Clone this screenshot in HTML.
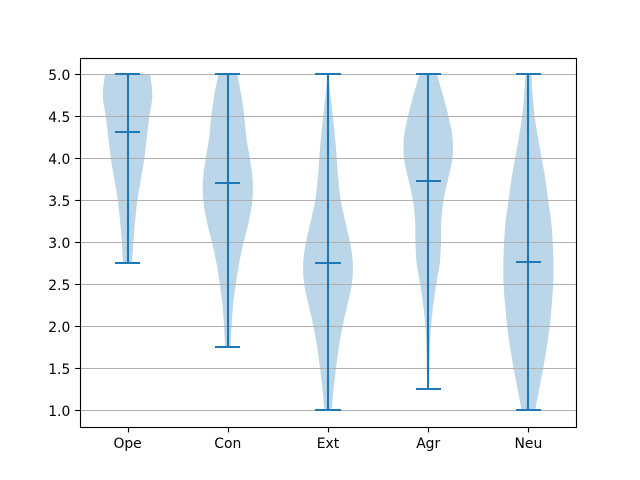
<!DOCTYPE html>
<html>
<head>
<meta charset="utf-8">
<title>Violin plot</title>
<style>
html,body{margin:0;padding:0;background:#fff;}
svg{display:block;}
text{font-family:"DejaVu Sans",sans-serif;font-size:13.89px;fill:#000;}
</style>
</head>
<body>
<svg id="chart" width="640" height="480" viewBox="0 0 640 480" xmlns="http://www.w3.org/2000/svg"></svg>
<script>
const categories = ["Ope", "Con", "Ext", "Agr", "Neu"];
const yTicks = [1.0, 1.5, 2.0, 2.5, 3.0, 3.5, 4.0, 4.5, 5.0];
const opeMin = 2.75, conMin = 1.75, extMin = 1.0, agrMin = 1.25, neuMin = 1.0;
const maxima = [5, 5, 5, 5, 5];
const minima = [opeMin, conMin, extMin, agrMin, neuMin];
const means = [4.31, 3.71, 2.75, 3.73, 2.77];
/* relative density, listed from 5.0 downward in steps of 0.25 */
const opeDensity = [0.90, 0.99, 0.87, 0.77, 0.67, 0.53, 0.39, 0.30, 0.23, 0.18];
const conDensity = [0.38, 0.54, 0.66, 0.74, 0.88, 0.99, 0.98, 0.84, 0.63, 0.45, 0.32, 0.21, 0.15, 0.11];
const extDensity = [0.02, 0.10, 0.19, 0.28, 0.35, 0.41, 0.51, 0.69, 0.88, 0.99, 0.95, 0.77, 0.58, 0.43, 0.32, 0.22, 0.15];
const agrDensity = [0.35, 0.59, 0.81, 0.97, 0.97, 0.79, 0.61, 0.52, 0.51, 0.46, 0.32, 0.20, 0.11, 0.07, 0.05, 0.03];
const neuDensity = [0.12, 0.17, 0.25, 0.38, 0.53, 0.68, 0.79, 0.91, 0.97, 1.00, 0.99, 0.93, 0.85, 0.73, 0.59, 0.43, 0.27];
const densities = [opeDensity, conDensity, extDensity, agrDensity, neuDensity];
const densityStep = 0.25;

const NS = "http://www.w3.org/2000/svg";
const svg = document.getElementById("chart");
const plot = { left: 80, right: 576, top: 57.6, bottom: 427.2 };
const xDomain = [0.525, 5.475];
const yDomain = [0.8, 5.2];
const violinHalfWidth = 0.25;
const capHalfWidth = 0.125;
const blue = "#1f77b4";

function xScale(v) {
  return plot.left + (v - xDomain[0]) / (xDomain[1] - xDomain[0]) * (plot.right - plot.left);
}
function yScale(v) {
  return plot.bottom - (v - yDomain[0]) / (yDomain[1] - yDomain[0]) * (plot.bottom - plot.top);
}
function make(tag, attrs, parent) {
  const el = document.createElementNS(NS, tag);
  for (const k in attrs) el.setAttribute(k, attrs[k]);
  parent.appendChild(el);
  return el;
}
function smoothThrough(pts) {
  let d = "";
  for (let i = 0; i < pts.length - 1; i++) {
    const p0 = pts[Math.max(i - 1, 0)], p1 = pts[i], p2 = pts[i + 1], p3 = pts[Math.min(i + 2, pts.length - 1)];
    const c1x = p1[0] + (p2[0] - p0[0]) / 6, c1y = p1[1] + (p2[1] - p0[1]) / 6;
    const c2x = p2[0] - (p3[0] - p1[0]) / 6, c2y = p2[1] - (p3[1] - p1[1]) / 6;
    d += " C" + c1x.toFixed(2) + " " + c1y.toFixed(2) + " " + c2x.toFixed(2) + " " + c2y.toFixed(2) + " " + p2[0].toFixed(2) + " " + p2[1].toFixed(2);
  }
  return d;
}

const bg = make("rect", { x: plot.left, y: plot.top, width: plot.right - plot.left, height: plot.bottom - plot.top, fill: "#fff" }, svg);



/* violin bodies */
categories.forEach(function (name, i) {
  const cx = xScale(i + 1);
  const right = [], left = [];
  densities[i].forEach(function (w, j) {
    const level = maxima[i] - j * densityStep;
    const y = yScale(level);
    const dx = xScale(i + 1 + w * violinHalfWidth) - cx;
    right.push([cx + dx, y]);
    left.push([cx - dx, y]);
  });
  left.reverse();
  const d = "M" + right[0][0].toFixed(2) + " " + right[0][1].toFixed(2) + smoothThrough(right) +
    " L" + left[0][0].toFixed(2) + " " + left[0][1].toFixed(2) + smoothThrough(left) + " Z";
  const body = make("path", { d: d, fill: blue, "fill-opacity": 0.3 }, svg);
  
  
});

/* grid lines */
yTicks.forEach(function (t) {
  const y = Math.floor(yScale(t)) + 0.5;
  const g = make("line", { x1: plot.left, x2: plot.right, y1: y, y2: y, stroke: "#b0b0b0", "stroke-width": 1.11 }, svg);
  
  
});

/* bars, caps, means */
categories.forEach(function (name, i) {
  const cx = Math.round(xScale(i + 1));
  const capL = Math.round(xScale(i + 1 - capHalfWidth));
  const capR = Math.round(xScale(i + 1 + capHalfWidth));
  const bar = make("line", { x1: cx, x2: cx, y1: Math.round(yScale(maxima[i])), y2: Math.round(yScale(minima[i])), stroke: blue, "stroke-width": 2.08 }, svg);
  
  
  [[maxima[i], 'violin-max-cap'], [minima[i], 'violin-min-cap'], [means[i], 'violin-mean-line']].forEach(function (c) {
    const y = Math.round(yScale(c[0]));
    const cap = make("line", { x1: capL, x2: capR, y1: y, y2: y, stroke: blue, "stroke-width": 2.08 }, svg);
    
    
  });
});

/* spines */
const frame = make("rect", { x: 80.5, y: 58.5, width: 496, height: 369, fill: "none", stroke: "#000", "stroke-width": 1.11 }, svg);



/* y axis */
yTicks.forEach(function (t) {
  const y = Math.floor(yScale(t)) + 0.5;
  const tick = make("line", { x1: 75.1, x2: 80, y1: y, y2: y, stroke: "#000", "stroke-width": 1.11 }, svg);
  
  
  const label = make("text", { x: 70.3, y: y + 5.5, "text-anchor": "end" }, svg);
  label.textContent = t.toFixed(1);
  
  
});

/* x axis */
categories.forEach(function (name, i) {
  const x = Math.round(xScale(i + 1)) + 0.5;
  const tick = make("line", { x1: x, x2: x, y1: 428, y2: 432.4, stroke: "#000", "stroke-width": 1.11 }, svg);
  
  
  const label = make("text", { x: xScale(i + 1), y: 448, "text-anchor": "middle" }, svg);
  label.textContent = name;
  
  
});
</script>
</body>
</html>
